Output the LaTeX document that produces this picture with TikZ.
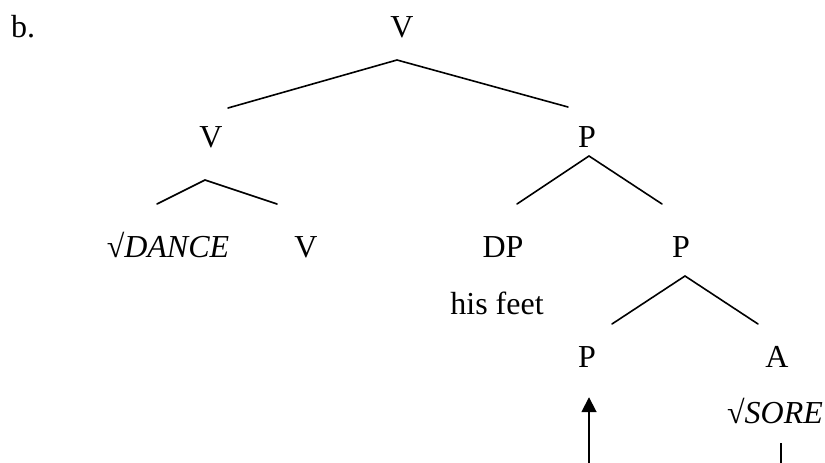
\documentclass[tikz,border=0pt]{standalone}
\usepackage{fontspec}
\setmainfont{Liberation Serif}
\usetikzlibrary{arrows.meta}

\begin{document}
\begin{tikzpicture}[
  x=1pt,y=-1pt,
  cat/.style={inner sep=0pt,anchor=base,font=\fontsize{32}{38}\selectfont},
  branch/.style={line width=1.6pt,line cap=round},
  move/.style={-{Triangle[length=15pt,width=15pt]},line width=1.8pt}
]
\useasboundingbox (0,0) rectangle (825,463);

\node[cat] (ex) at (23,37) {b.};

% nodes, one row at a time
\node[cat] (vTop) at (402,37) {V};
\node[cat] (vMid) at (211,147) {V};
\node[cat] (pMid) at (587,147) {P};
\node[cat] (dance) at (168,257) {√\textit{DANCE}};
\node[cat] (vLow) at (306,257) {V};
\node[cat] (dp) at (503,257) {DP};
\node[cat] (pLow) at (681,257) {P};
\node[cat] (feet) at (497,314) {his feet};
\node[cat] (pHead) at (587,367) {P};
\node[cat] (aHead) at (777,367) {A};
\node[cat] (sore) at (775,423) {√\textit{SORE}};

% branching points (lines stand free of the labels)
\coordinate (topL) at (228,108);  \coordinate (topM) at (397,60);  \coordinate (topR) at (568,107);
\coordinate (vL) at (157,204);    \coordinate (vM) at (205,180);   \coordinate (vR) at (277,204);
\coordinate (pL) at (517,204);    \coordinate (pM) at (589,156);   \coordinate (pR) at (662,204);
\coordinate (qL) at (612,324);    \coordinate (qM) at (685,276);   \coordinate (qR) at (758,324);
\draw[branch] (topL) -- (topM) -- (topR);
\draw[branch] (vL) -- (vM) -- (vR);
\draw[branch] (pL) -- (pM) -- (pR);
\draw[branch] (qL) -- (qM) -- (qR);

% movement into the P head
\coordinate (moveFoot) at (589,463);
\coordinate (soreFoot) at (781,463);
\draw[move,shorten >=30pt] (moveFoot) -- (moveFoot |- pHead.south);
\draw[line width=1.6pt,shorten >=19pt] (soreFoot) -- (soreFoot |- sore.south);
\end{tikzpicture}
\end{document}
